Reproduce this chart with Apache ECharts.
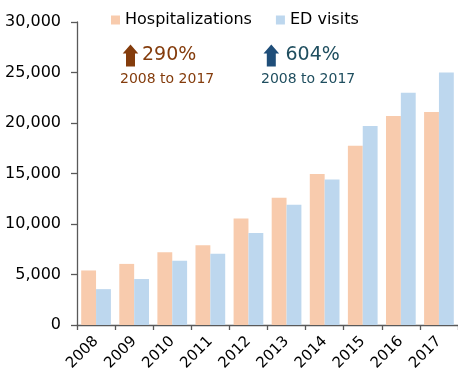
<!DOCTYPE html>
<html>
<head>
<meta charset="utf-8">
<script src="https://cdn.jsdelivr.net/npm/echarts@6/dist/echarts.min.js"></script>
<style>
  html, body { margin: 0; padding: 0; background: #fff; }
  #chart { width: 458px; height: 377px; }
</style>
</head>
<body>
<div id="chart"></div>
<script>
// Years on the category axis
const years = ['2008', '2009', '2010', '2011', '2012', '2013', '2014', '2015', '2016', '2017'];
// Annual counts
const hospitalizations = [5400, 6050, 7200, 7900, 10550, 12600, 14950, 17750, 20700, 21100];
const edVisits = [3550, 4550, 6350, 7050, 9100, 11900, 14400, 19700, 23000, 25000];
// Value axis ticks
const yMin = 0, yMax = 30000, yStep = 5000;
// Growth call-outs
const hospGrowth = '290%';
const edGrowth = '604%';
const growthPeriod = '2008 to 2017';

const FONT = 'DejaVu Sans';
const HOSP_COLOR = '#F8CBAD';
const ED_COLOR = '#BDD7EE';
const AXIS_COLOR = '#595959';
const BROWN = '#843C0C';
const NAVY = '#1F4E79';
const TEAL = '#1F4E5F';

// Upward block arrow, drawn relative to its top-left corner
function upArrow(x, y, color) {
  return {
    type: 'polygon',
    shape: {
      points: [
        [x + 7.8, y], [x + 15.6, y + 9], [x + 12.3, y + 9],
        [x + 12.3, y + 22], [x + 3.3, y + 22], [x + 3.3, y + 9], [x, y + 9]
      ]
    },
    style: { fill: color }
  };
}

const chart = echarts.init(document.getElementById('chart'), null, { renderer: 'canvas' });
chart.setOption({
  animation: false,
  backgroundColor: '#fff',
  textStyle: { fontFamily: FONT },
  grid: { left: 77, right: 0, top: 22, bottom: 52, containLabel: false },
  legend: {
    left: 111, top: 12, padding: 0,
    itemWidth: 9, itemHeight: 9, itemGap: 24,
    icon: 'rect',
    textStyle: { fontFamily: FONT, fontSize: 16, color: '#000' },
    data: ['Hospitalizations', 'ED visits']
  },
  xAxis: {
    type: 'category',
    data: years,
    axisLine: { lineStyle: { color: AXIS_COLOR, width: 1.3 } },
    axisTick: { show: true, length: 5, lineStyle: { color: AXIS_COLOR, width: 1.3 } },
    axisLabel: { rotate: 45, margin: 14, fontFamily: FONT, fontSize: 15, color: '#000' }
  },
  yAxis: {
    type: 'value',
    min: yMin, max: yMax, interval: yStep,
    splitLine: { show: false },
    axisLine: { show: true, lineStyle: { color: AXIS_COLOR, width: 1.3 } },
    axisTick: { show: true, length: 6, lineStyle: { color: AXIS_COLOR, width: 1.3 } },
    axisLabel: {
      margin: 16, fontFamily: FONT, fontSize: 16, color: '#000',
      formatter: v => v.toLocaleString('en-US')
    }
  },
  series: [
    {
      name: 'Hospitalizations', type: 'bar', data: hospitalizations,
      itemStyle: { color: HOSP_COLOR }, barGap: '0%', barCategoryGap: '22%'
    },
    {
      name: 'ED visits', type: 'bar', data: edVisits,
      itemStyle: { color: ED_COLOR }, barGap: '0%', barCategoryGap: '22%'
    }
  ],
  graphic: [
    upArrow(122.7, 44.5, BROWN),
    { type: 'text', left: 142, top: 46, style: { text: hospGrowth, font: '19px ' + FONT, fill: BROWN } },
    { type: 'text', left: 120, top: 72, style: { text: growthPeriod, font: '14px ' + FONT, fill: BROWN } },
    upArrow(263.5, 44.5, NAVY),
    { type: 'text', left: 285.5, top: 46, style: { text: edGrowth, font: '19px ' + FONT, fill: TEAL } },
    { type: 'text', left: 261, top: 72, style: { text: growthPeriod, font: '14px ' + FONT, fill: TEAL } }
  ]
});
</script>
</body>
</html>
